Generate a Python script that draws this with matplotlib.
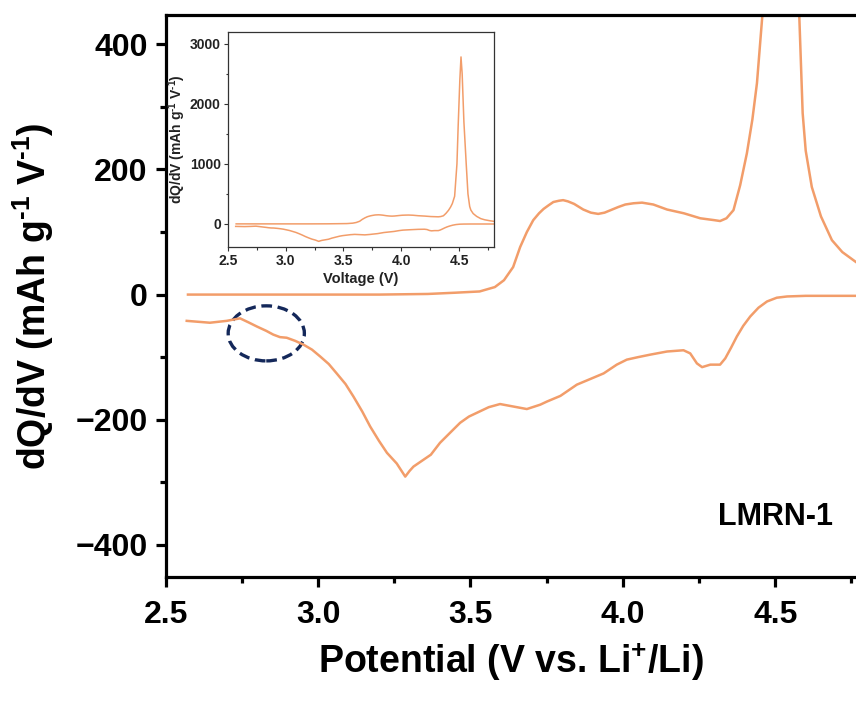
import matplotlib
matplotlib.use("Agg")
import matplotlib.pyplot as plt
import matplotlib.ticker as mpltick
from matplotlib.patches import Ellipse

plt.rcParams["font.family"] = ["Liberation Sans", "DejaVu Sans"]
plt.rcParams["font.weight"] = "bold"
plt.rcParams["mathtext.fontset"] = "custom"
plt.rcParams["mathtext.rm"] = "Liberation Sans:bold"
plt.rcParams["mathtext.bf"] = "Liberation Sans:bold"
plt.rcParams["mathtext.it"] = "Liberation Sans:bold:italic"

# Data
charge_v = [2.573, 2.8, 3.0, 3.2, 3.36, 3.45, 3.53, 3.58, 3.61, 3.64, 3.663,
            3.685, 3.706, 3.725, 3.74, 3.757, 3.772, 3.79, 3.804, 3.82, 3.84,
            3.87, 3.895, 3.919, 3.94, 3.96, 3.985, 4.008, 4.035, 4.063,
            4.1, 4.145, 4.2, 4.254, 4.3, 4.319, 4.34, 4.363, 4.385, 4.407,
            4.425, 4.44, 4.46, 4.48, 4.49, 4.505, 4.515, 4.525, 4.54, 4.56,
            4.575, 4.59, 4.6, 4.62, 4.65, 4.686, 4.72, 4.765, 4.8]
charge_q = [0, 0, 0, 0, 1, 3, 5, 12, 23, 44, 76,
            100, 119, 130, 137, 143, 148, 150, 151, 149, 145,
            136, 131, 129, 131, 135, 140, 144, 146, 147,
            144, 136, 130, 122, 119, 117.6, 122, 135, 175, 226,
            280, 338, 460, 1000, 1600, 2400, 2780, 2500, 1700, 1000,
            500, 290, 230, 172, 125, 87, 68, 52, 42]

discharge_v = [2.569, 2.645, 2.7, 2.744, 2.77, 2.799, 2.83, 2.853, 2.875,
               2.897, 2.925, 2.952, 2.98, 3.007, 3.035, 3.061, 3.09, 3.116,
               3.145, 3.171, 3.2, 3.226, 3.258, 3.286, 3.30, 3.313, 3.346,
               3.37, 3.4, 3.435, 3.466, 3.495, 3.521, 3.56, 3.597, 3.641,
               3.685, 3.729, 3.751, 3.795, 3.849, 3.937, 3.98, 4.013, 4.05,
               4.09, 4.145, 4.199, 4.221, 4.243, 4.26, 4.287, 4.319, 4.336,
               4.355, 4.374, 4.395, 4.418, 4.445, 4.473, 4.505, 4.539, 4.6, 4.8]
discharge_q = [-42, -45, -42, -38, -44, -51, -58, -64, -68,
               -69, -74, -80, -88, -99, -111, -126, -143, -163,
               -187, -211, -234, -253, -270, -291, -282, -275, -264,
               -256, -237, -220, -205, -195, -189, -180, -175, -179,
               -183, -176, -171, -162, -144, -126, -112, -104, -100,
               -96, -91, -89, -94, -110, -116, -112, -112, -102,
               -85, -67, -50, -35, -21, -11, -5, -3, -2, -2]

color = "#f29d6a"

fig = plt.figure(figsize=(8.56, 7.02), dpi=100)
ax = fig.add_axes([165.7 / 856, 1 - 577.3 / 702, 1 - 165.7 / 856, (577.3 - 15) / 702])

ax.plot(charge_v, charge_q, color=color, lw=1.8)
ax.plot(discharge_v, discharge_q, color=color, lw=1.8)
ax.set_xlim(2.5, 4.765)
ax.set_ylim(-452, 447)

## Axis formatting
ax.spines.right.set_visible(False)
for s in ["left", "top", "bottom"]:
    ax.spines[s].set_linewidth(2.3)
ax.xaxis.set_major_locator(mpltick.MultipleLocator(0.5))
ax.xaxis.set_minor_locator(mpltick.MultipleLocator(0.25))
ax.yaxis.set_major_locator(mpltick.MultipleLocator(200))
ax.yaxis.set_minor_locator(mpltick.MultipleLocator(100))
ax.xaxis.set_major_formatter(mpltick.FormatStrFormatter("%.1f"))
ax.tick_params(which="major", direction="out", length=7, width=2.3, labelsize=23, pad=6)
ax.tick_params(axis="x", which="major", pad=9)
ax.tick_params(which="minor", direction="out", length=4, width=2.3)
ax.tick_params(top=False, right=False, which="both")

ax.set_xlabel(r"Potential (V vs. Li$^{\mathbf{+}}$/Li)", fontsize=27, fontweight="bold", labelpad=8)
ax.set_ylabel(r"dQ/dV (mAh g$^{\text{-1}}$ V$^{\text{-1}}$)", fontsize=27, fontweight="bold", labelpad=14)

# dashed ellipse marking the shoulder
ax.add_patch(Ellipse((2.83, -62), 0.25, 88, fill=False, ec="#14285a",
                     lw=2.4, ls=(0, (3.2, 1.7))))

ax.text(4.502, -355, "LMRN-1", fontsize=22, fontweight="bold", ha="center", va="center")

## Inset
ins = fig.add_axes([227.7 / 856, 1 - 246.7 / 702, (494 - 227.7) / 856, (246.7 - 31.7) / 702])
ins.plot(charge_v, charge_q, color=color, lw=1.1)
ins.plot(discharge_v, discharge_q, color=color, lw=1.1)
ins.set_xlim(2.5, 4.8)
ins.set_ylim(-380, 3200)
for s in ins.spines.values():
    s.set_linewidth(0.9)
    s.set_color("#333333")
ins.xaxis.set_major_locator(mpltick.MultipleLocator(0.5))
ins.xaxis.set_minor_locator(mpltick.MultipleLocator(0.25))
ins.yaxis.set_major_locator(mpltick.MultipleLocator(1000))
ins.yaxis.set_minor_locator(mpltick.MultipleLocator(500))
ins.xaxis.set_major_formatter(mpltick.FormatStrFormatter("%.1f"))
ins.tick_params(which="major", direction="out", length=3, width=0.8, labelsize=10,
                colors="#333333", labelcolor="#222222", pad=2)
ins.tick_params(which="minor", direction="out", length=1.8, width=0.8, colors="#333333")
ins.set_xlabel("Voltage (V)", fontsize=10.5, fontweight="bold", color="#222222", labelpad=3)
ins.set_ylabel(r"dQ/dV (mAh g$^{\text{-1}}$ V$^{\text{-1}}$)", fontsize=10,
               fontweight="bold", color="#222222", labelpad=1)

fig.savefig("out.png", dpi=100)
